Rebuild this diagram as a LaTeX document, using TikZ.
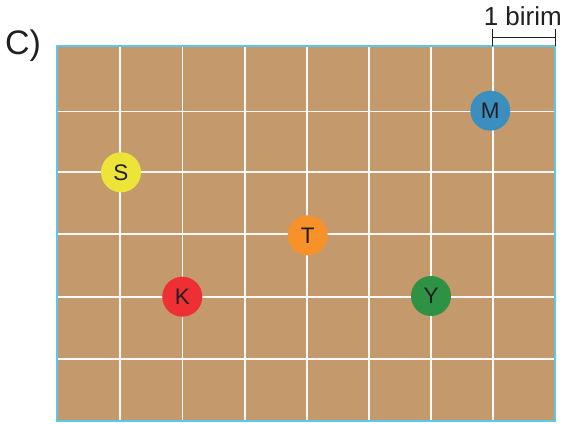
\documentclass[tikz,border=0pt]{standalone}
\usepackage{fontspec}
\setmainfont{Liberation Sans}
\definecolor{board}{HTML}{C49A6C}
\definecolor{frame}{HTML}{5CC8E8}
\definecolor{ink}{HTML}{231F20}
\definecolor{cS}{HTML}{EDE43A}
\definecolor{cM}{HTML}{3A8FBF}
\definecolor{cT}{HTML}{F7922B}
\definecolor{cK}{HTML}{EE3034}
\definecolor{cY}{HTML}{2E9244}
\tikzset{
  dot/.style={circle, minimum size=40pt, inner sep=0pt, text=ink, font=\fontsize{22.5}{22.5}\selectfont},
  gridline/.style={draw=white!95!board, line width=1.8pt},
  barline/.style={draw=ink, line width=1pt}
}
\begin{document}
\begin{tikzpicture}[x=1pt,y=-1pt]
\useasboundingbox (0,0) rectangle (564,423);
% board
\fill[board] (57,46) rectangle (555,421);
% vertical grid lines
\foreach \x in {120.3,182.5,244.7,306.7,368.7,430.7,492.7}
  \draw[gridline] (\x,46) -- (\x,421);
% horizontal grid lines
\foreach \y in {111.5,172.3,234.3,297,359}
  \draw[gridline] (57,\y) -- (555,\y);
% frame
\draw[frame, line width=1.3pt] (57,46) rectangle (555,421);
% label
\node[anchor=west, text=ink, font=\fontsize{34}{34}\selectfont, inner sep=0pt] (lab) at (5,46) {C)};
% scale bar
\coordinate (b1) at (492.7,37.3);
\coordinate (b2) at (555,37.3);
\draw[barline] (492.7,29) -- (492.7,45.5);
\draw[barline] (555,29) -- (555,45.5);
\draw[barline] (b1) -- (b2);
\node[anchor=south east, text=ink, font=\fontsize{26}{26}\selectfont, inner sep=0pt] (unit) at (562,26) {1 birim};
% points
\node[dot, fill=cS] (S) at (121,172.3) {S};
\node[dot, fill=cM] (M) at (490.3,110.7) {M};
\node[dot, fill=cT] (T) at (307.7,235.3) {T};
\node[dot, fill=cK] (K) at (182.3,296.7) {K};
\node[dot, fill=cY] (Y) at (431,296) {Y};
\end{tikzpicture}
\end{document}
